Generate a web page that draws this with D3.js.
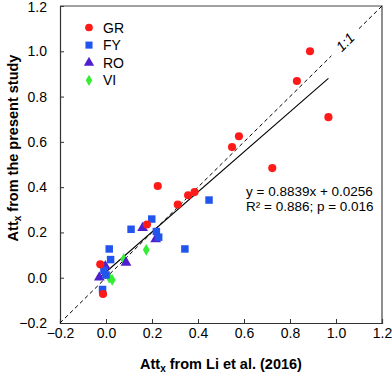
<!DOCTYPE html>
<html lang="en">
<head>
    <meta charset="UTF-8">
    <title>Attx comparison</title>
    <script src="https://cdnjs.cloudflare.com/ajax/libs/d3/7.8.5/d3.min.js"></script>
    <style>
        body {
            margin: 0;
            font-family: Arial, "Liberation Sans", sans-serif;
            background: #fff;
        }
        .tick-label {
            font-size: 14px;
            fill: #000;
        }
        .axis-title {
            font-size: 14.5px;
            font-weight: bold;
        }
        .legend-text {
            font-size: 14px;
        }
        .eq-text {
            font-size: 13.5px;
        }
    </style>
</head>
<body>
    <div id="chart"></div>

    <script>
        // Values: [Att_x Li et al. (2016), Att_x present study]
        const grPoints = [
            [0.887, 1.0], [0.830, 0.869], [0.967, 0.709], [0.578, 0.625],
            [0.548, 0.577], [0.723, 0.484], [0.385, 0.378], [0.357, 0.364],
            [0.225, 0.405], [0.312, 0.323], [0.178, 0.235], [-0.025, 0.059],
            [-0.013, -0.072]
        ];
        const fyPoints = [
            [0.448, 0.343], [0.199, 0.259], [0.109, 0.214], [0.219, 0.204],
            [0.229, 0.179], [0.343, 0.127], [0.014, 0.127], [0.020, 0.080],
            [-0.009, 0.033], [0.0, 0.012], [-0.015, -0.052]
        ];
        const roPoints = [
            [0.159, 0.220], [0.216, 0.170], [0.087, 0.067], [-0.003, 0.051],
            [-0.029, 0.001]
        ];
        const viPoints = [
            [0.175, 0.123], [0.077, 0.082], [0.014, 0.0], [0.027, -0.010]
        ];
        const groupNames = ["GR", "FY", "RO", "VI"];
        const tickValues = [-0.2, 0.0, 0.2, 0.4, 0.6, 0.8, 1.0, 1.2];
        const fitSlope = 0.8839;
        const fitIntercept = 0.0256;

        const groups = [
            {name: "GR", points: grPoints, shape: d3.symbolCircle, size: 52, color: "#ff1a1a"},
            {name: "FY", points: fyPoints, shape: d3.symbolSquare, size: 56, color: "#2255ee"},
            {name: "RO", points: roPoints, shape: d3.symbolTriangle, size: 50, color: "#5020d0"},
            {name: "VI", points: viPoints, shape: d3.symbolDiamond, size: 40, color: "#33ee33"}
        ];

        const totalWidth = 392, totalHeight = 375;
        const margin = {top: 6, right: 10, bottom: 52, left: 60};
        const width = totalWidth - margin.left - margin.right;
        const height = totalHeight - margin.top - margin.bottom;

        const svg = d3.select("#chart")
            .append("svg")
            .attr("width", totalWidth)
            .attr("height", totalHeight)
            .append("g")
            .attr("transform", `translate(${margin.left},${margin.top})`);

        const x = d3.scaleLinear().domain([-0.2, 1.2]).range([0, width]);
        const y = d3.scaleLinear().domain([-0.2, 1.2]).range([height, 0]);

        // Axes with inward ticks
        const xAxis = svg.append("g")
            .attr("transform", `translate(0,${height})`)
            .call(d3.axisBottom(x).tickValues(tickValues).tickSize(-4).tickPadding(5)
                .tickFormat(d3.format(".1f")));
        xAxis.selectAll("text").attr("class", "tick-label").attr("font-size", null).attr("font-family", null);

        const yAxis = svg.append("g")
            .call(d3.axisLeft(y).tickValues(tickValues).tickSize(-4).tickPadding(13)
                .tickFormat(d3.format(".1f")));
        yAxis.selectAll("text").attr("class", "tick-label").attr("font-size", null).attr("font-family", null);
        // keep the top label inside the window
        yAxis.selectAll("text").filter(d => d === 1.2).attr("dy", "0.42em");

        svg.selectAll(".domain").attr("stroke", "#333").attr("stroke-width", 1.2);
        svg.selectAll(".tick line").attr("stroke", "#333");

        // top and right frame
        svg.append("path")
            .attr("d", `M0,0H${width}V${height}`)
            .attr("fill", "none")
            .attr("stroke", "#444")
            .attr("stroke-width", 1.2);

        const line = d3.line().x(d => x(d[0])).y(d => y(d[1]));

        // 1:1 line, broken where the label sits
        [[[-0.2, -0.2], [0.98, 0.98]], [[1.1, 1.1], [1.2, 1.2]]].forEach(seg => {
            svg.append("path")
                .attr("d", line(seg))
                .attr("fill", "none")
                .attr("stroke", "#000")
                .attr("stroke-width", 1)
                .attr("stroke-dasharray", "4,3");
        });

        svg.append("text")
            .attr("transform", `translate(${x(1.04)},${y(1.04)}) rotate(-45)`)
            .attr("text-anchor", "middle")
            .attr("dy", "0.35em")
            .attr("font-size", 14)
            .attr("font-style", "italic")
            .text("1:1");

        // regression line over data range
        const allX = [...grPoints, ...fyPoints, ...roPoints, ...viPoints].map(d => d[0]);
        const xr = d3.extent(allX);
        svg.append("path")
            .attr("d", line(xr.map(v => [v, fitSlope * v + fitIntercept])))
            .attr("fill", "none")
            .attr("stroke", "#000")
            .attr("stroke-width", 1.1);

        // points (drawn in reverse so GR sits beneath)
        groups.slice().reverse().forEach(g => {
            svg.selectAll(null)
                .data(g.points)
                .enter().append("path")
                .attr("d", d3.symbol().type(g.shape).size(g.size))
                .attr("transform", d => `translate(${x(d[0])},${y(d[1])})`)
                .attr("fill", g.color);
        });

        // legend
        const legend = svg.append("g").attr("transform", "translate(29,21.5)");
        groupNames.forEach((name, i) => {
            const g = groups.find(k => k.name === name);
            const row = legend.append("g").attr("transform", `translate(0,${i * 17.6})`);
            row.append("path")
                .attr("d", d3.symbol().type(g.shape).size(g.size * 0.9))
                .attr("fill", g.color);
            row.append("text")
                .attr("class", "legend-text")
                .attr("x", 14)
                .attr("dy", "0.36em")
                .text(name);
        });

        // equation
        svg.append("text")
            .attr("class", "eq-text")
            .attr("x", 186)
            .attr("y", 190)
            .text(`y = ${fitSlope}x + ${fitIntercept}`);
        svg.append("text")
            .attr("class", "eq-text")
            .attr("x", 186)
            .attr("y", 204.5)
            .text("R² = 0.886; p = 0.016");

        // axis titles
        const xt = svg.append("text")
            .attr("class", "axis-title")
            .attr("x", width / 2)
            .attr("y", height + 46)
            .attr("text-anchor", "middle");
        xt.append("tspan").text("Att");
        xt.append("tspan").attr("font-size", 10).attr("dy", 3).text("x");
        xt.append("tspan").attr("dy", -3).text(" from Li et al. (2016)");

        const yt = svg.append("text")
            .attr("class", "axis-title")
            .attr("transform", `translate(${-42},${142}) rotate(-90)`)
            .attr("text-anchor", "middle");
        yt.append("tspan").text("Att");
        yt.append("tspan").attr("font-size", 10).attr("dy", 3).text("x");
        yt.append("tspan").attr("dy", -3).text(" from the present study");
    </script>
</body>
</html>
